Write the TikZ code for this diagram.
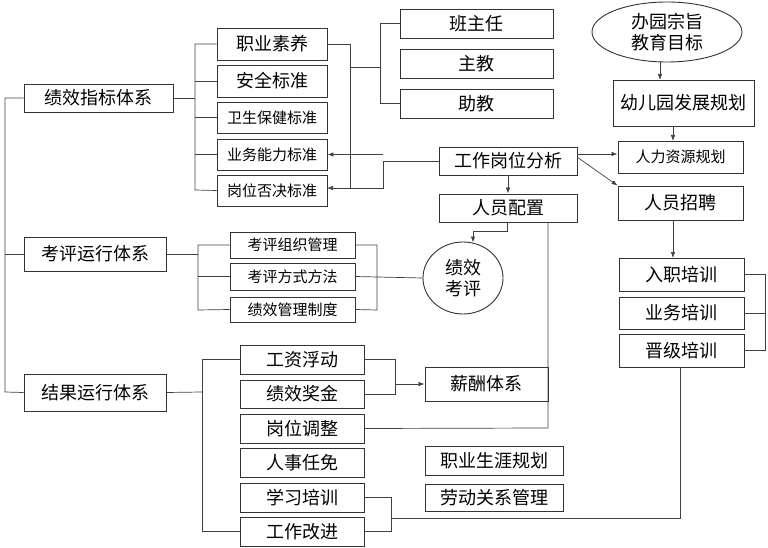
\documentclass[tikz,border=0pt]{standalone}
\usepackage{fontspec}
\setmainfont{Noto Sans CJK SC}
\usetikzlibrary{arrows.meta,shapes.geometric}
\begin{document}
\begin{tikzpicture}[x=1pt,y=-1pt,
 bx/.style={draw=black!80,line width=0.9pt,inner sep=0pt,font=\fontsize{18}{20}\selectfont},
 sm/.style={bx,font=\fontsize{15}{17}\selectfont},
 ln/.style={draw=black!75,line width=0.7pt},
 ar/.style={ln,-{Latex[length=6pt,width=4.5pt]}}]
\useasboundingbox (0,0) rectangle (768,548);
\def\bxn#1#2#3#4#5#6#7{\node[#1,minimum width=#4-#3,minimum height=#6-#5] (#2) at ({(#3+#4)/2},{(#5+#6)/2}) {#7};}
% left column
\bxn{bx}{jx}{24}{173}{84}{112}{绩效指标体系}
\bxn{bx}{kp}{24}{166}{237}{271}{考评运行体系}
\bxn{bx}{jg}{24}{166}{374}{411}{结果运行体系}
% standards
\bxn{bx}{zy}{217}{327}{28}{60}{职业素养}
\bxn{bx}{aq}{217}{327}{65}{97}{安全标准}
\bxn{sm}{ws}{217}{327}{102}{133}{卫生保健标准}
\bxn{sm}{yw}{217}{327}{139}{170}{业务能力标准}
\bxn{sm}{gw}{217}{327}{175}{206}{岗位否决标准}
\bxn{bx}{bzr}{400}{553}{9}{38}{班主任}
\bxn{bx}{zj}{400}{553}{49}{78}{主教}
\bxn{bx}{zhj}{400}{553}{89}{118}{助教}
\bxn{bx}{gzfx}{439}{577}{147}{175}{工作岗位分析}
\bxn{bx}{rypz}{439}{577}{194}{222}{人员配置}
% kaoping
\bxn{sm}{zz}{230}{355}{232}{258}{考评组织管理}
\bxn{sm}{fs}{230}{355}{263}{290}{考评方式方法}
\bxn{sm}{zd}{230}{355}{297}{322}{绩效管理制度}
\node[draw=black!80,line width=0.9pt,ellipse,minimum width=80,minimum height=72,inner sep=0pt,align=center,font=\fontsize{18}{21}\selectfont] (el) at (463,278) {绩效\\考评};
% results
\bxn{bx}{gz}{240}{364}{345}{374}{工资浮动}
\bxn{bx}{jj}{240}{364}{380}{408}{绩效奖金}
\bxn{bx}{tz}{240}{364}{414}{443}{岗位调整}
\bxn{bx}{rs}{240}{364}{448}{477}{人事任免}
\bxn{bx}{xx}{240}{364}{483}{512}{学习培训}
\bxn{bx}{gj}{240}{364}{517}{546}{工作改进}
\bxn{bx}{xc}{425}{548}{367}{401}{薪酬体系}
\bxn{bx}{sy}{425}{563}{446}{475}{职业生涯规划}
\bxn{bx}{ld}{425}{563}{484}{511}{劳动关系管理}
% right
\node[draw=black!80,line width=0.9pt,ellipse,minimum width=150,minimum height=60,inner sep=0pt,align=center,font=\fontsize{18}{21}\selectfont] (zz2) at (667,32) {办园宗旨\\教育目标};
\bxn{bx}{fz}{613}{754}{80}{126}{幼儿园发展规划}
\bxn{sm}{rl}{618}{743}{141}{173}{人力资源规划}
\bxn{bx}{zp}{618}{743}{186}{220}{人员招聘}
\bxn{bx}{rz}{619}{744}{258}{291}{入职培训}
\bxn{bx}{ywp}{619}{744}{297}{329}{业务培训}
\bxn{bx}{jp}{619}{744}{334}{367}{晋级培训}
% left spine
\draw[ln] (jx.west) -- (5,98) -- (5,392) -- (jg.west);
\draw[ln] (5,254) -- (kp.west);
% jixiao brackets
\draw[ln] (jx.east) -- (195,98);
\draw[ln] (zy.west) -- (195,44) -- (195,190) -- (gw.west);
\foreach \n in {aq,ws,yw} \draw[ln] (195,0 |- \n.west) -- (\n.west);
\draw[ln] (zy.east) -- (350,44) -- (350,188);
\draw[ar] (350,188) -- (327,188);
\draw[ln] (350,67) -- (380,67);
\draw[ln] (bzr.west) -- (380,23.5) -- (380,103.5) -- (zhj.west);
\draw[ln] (gzfx.west) -- (383,161) -- (383,188) -- (350,188);
\draw[ar] (383,154.5) -- (yw.east);
% gongzuo fenxi
\draw[ar] (gzfx.south) -- (rypz.north);
\draw[ar] (gzfx.east |- 0,154) -- (rl.west |- 0,154);
\draw[ar] (577,157) -- (zp.north west);
\draw[ar] (507,222) -- (507,231) -- (473,231) -- (473,242.5);
\draw[ln] (548,222) -- (548,428) -- (tz.east);
% kaoping
\draw[ln] (kp.east) -- (198,254);
\draw[ln] (zz.west) -- (198,245) -- (198,310) -- (zd.west);
\draw[ln] (198,276.5) -- (fs.west);
\draw[ln] (zz.east) -- (377,245) -- (377,310) -- (zd.east);
\draw[ln] (fs.east) -- (el.west);
% results
\draw[ln] (jg.east) -- (202,392);
\draw[ln] (gz.west) -- (202,359.5) -- (202,531.5) -- (gj.west);
\draw[ln] (gz.east) -- (395,359.5) -- (395,394) -- (jj.east);
\draw[ar] (395,384) -- (xc.west);
\draw[ln] (xx.east) -- (391,497.5) -- (391,531.5) -- (gj.east);
\draw[ln] (391,518) -- (680,518) -- (680,367);
% right chain
\draw[ar] (660,62) -- (660,80);
\draw[ar] (673,126) -- (673,141);
\draw[ar] (673,220) -- (673,258);
\draw[ln] (rz.east) -- (765,274.5) -- (765,350.5) -- (jp.east);
\draw[ln] (ywp.east) -- (765,313);
\end{tikzpicture}
\end{document}
